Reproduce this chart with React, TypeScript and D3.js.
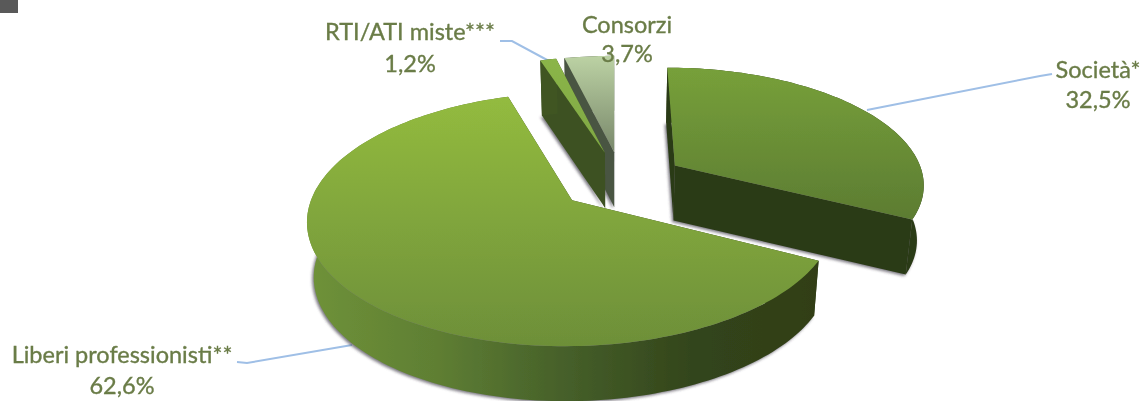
import * as d3 from 'd3'

const W = 1142
const H = 401

const categories = ['Società*', 'Liberi professionisti**', 'RTI/ATI miste***', 'Consorzi']
const shares = [32.5, 62.6, 1.2, 3.7]
const shareLabels = ['32,5%', '62,6%', '1,2%', '3,7%']

// top face colours, vertical gradient
const topFrom = ['#77a03a', '#93bb3f', '#8bb548', '#bcd2a4']
const topTo = ['#5c7c32', '#6d8f39', '#7fa744', '#78876a']
const cutColors = ['#2b3a16', '#33431a', '#3c5120', '#4a5442']
// side colours, left to right
const arcStops = [
  ['#2b3a16', '#2b3a16'],
  ['#6f9239', '#5f7f33', '#46602a', '#33451b', '#303e17'],
  ['#3f5522', '#3f5522'],
  ['#4a5442', '#4a5442'],
]

// label anchors (centre of text) and leader lines
const labelX = [1098, 122, 410, 627]
const labelY = [[78, 108], [363, 394], [40, 72], [33, 62]]
const leaders: [number, number][][] = [
  [[867, 110], [1040, 76], [1052, 74]],
  [[352, 345], [247, 363], [237, 362]],
  [[549, 61], [512, 41], [500, 41]],
  [],
]

// projection of the pie plane, fitted by eye
const camX = 614
const baseY = 200
const scaleA = 261
const scaleB = 124
const persp = 0.15
const centre = [0.03, 0.16]
const explode = 0.25
const radius = [0.98, 1, 1, 1]
const depthScale = 0.978
const depth = 55

type Pt = [number, number]

const project = (X: number, Y: number): Pt => {
  const p = 1 / (1 + persp * Y)
  return [camX + scaleA * X * p, baseY - scaleB * Y * p]
}
const drop = ([x, y]: Pt): Pt => [camX + (x - camX) * depthScale, y + depth]

const pieGen = d3.pie<number>().sort(null).value(d => d)
const arcs = pieGen(shares)
const line = d3.line<Pt>()

const slices = arcs.map((a, idx) => {
  const mid = (a.startAngle + a.endAngle) / 2
  const cx = centre[0] + explode * Math.sin(mid)
  const cy = centre[1] + explode * Math.cos(mid)
  const apex = project(cx, cy)
  const n = Math.max(4, Math.ceil((a.endAngle - a.startAngle) * 40))
  const rim = d3.range(n + 1).map(i => {
    const t = a.startAngle + ((a.endAngle - a.startAngle) * i) / n
    return project(cx + radius[idx] * Math.sin(t), cy + radius[idx] * Math.cos(t))
  })
  return { apex, rim }
})

// back to front
const drawOrder = [3, 2, 0, 1]

const closed = (pts: Pt[]) => (line(pts) as string) + 'Z'

export default function App() {
  return (
    <svg
      width={W}
      height={H}
      style={{ position: 'absolute', left: 0, top: 0, display: 'block', background: '#fff' }}
    >
      <defs>
        <filter id="soft" x="-5%" y="-5%" width="110%" height="110%">
          <feGaussianBlur stdDeviation="0.7" />
        </filter>
        <filter id="shadow" x="-10%" y="-10%" width="120%" height="120%">
          <feGaussianBlur stdDeviation="1.8" />
        </filter>
        {slices.map((s, i) => {
          const ys = s.rim.map(p => p[1]).concat(s.apex[1])
          const xs = s.rim.map(p => p[0]).concat(s.apex[0])
          return (
            <g key={i}>
              <linearGradient
                id={`top${i}`}
                gradientUnits="userSpaceOnUse"
                x1={0}
                x2={0}
                y1={d3.min(ys)}
                y2={d3.max(ys)}
              >
                <stop offset="0" stopColor={topFrom[i]} />
                <stop offset="1" stopColor={topTo[i]} />
              </linearGradient>
              <linearGradient
                id={`arc${i}`}
                gradientUnits="userSpaceOnUse"
                x1={d3.min(xs)}
                x2={d3.max(xs)}
                y1={0}
                y2={0}
              >
                {arcStops[i].map((c, k) => (
                  <stop key={k} offset={k / (arcStops[i].length - 1)} stopColor={c} />
                ))}
              </linearGradient>
            </g>
          )
        })}
      </defs>

      <rect x={0} y={0} width={18} height={13} fill="#595959" />

      <g filter="url(#soft)">
        {leaders.map((l, i) =>
          l.length ? (
            <path key={i} d={line(l) as string} fill="none" stroke="#9fbfe6" strokeWidth={2} />
          ) : null,
        )}

        {drawOrder.map(i => {
          const { apex, rim } = slices[i]
          const first = rim[0]
          const last = rim[rim.length - 1]
          const top = [apex, ...rim]
          const bottom = top.map(drop)
          const shadow = bottom.map(([x, y]): Pt => [x - 1.5, y + 1.5])
          const arcSide = [...rim, ...rim.map(drop).reverse()]
          return (
            <g key={i}>
              <path d={closed(shadow)} fill="#4d4a55" opacity={0.75} filter="url(#shadow)" />
              <path d={closed([apex, last, drop(last), drop(apex)])} fill={cutColors[i]} />
              <path d={closed([apex, first, drop(first), drop(apex)])} fill={cutColors[i]} />
              <path d={closed(arcSide)} fill={`url(#arc${i})`} />
              <path d={closed(top)} fill={`url(#top${i})`} />
            </g>
          )
        })}

        {categories.map((c, i) => (
          <text
            key={c}
            textAnchor="middle"
            fontFamily="Lato, 'Open Sans', sans-serif"
            fontSize={23.5}
            fill="#6a7c47"
            stroke="#6a7c47"
            strokeWidth={0.35}
          >
            <tspan x={labelX[i]} y={labelY[i][0]}>
              {c}
            </tspan>
            <tspan x={labelX[i]} y={labelY[i][1]}>
              {shareLabels[i]}
            </tspan>
          </text>
        ))}
      </g>
    </svg>
  )
}
